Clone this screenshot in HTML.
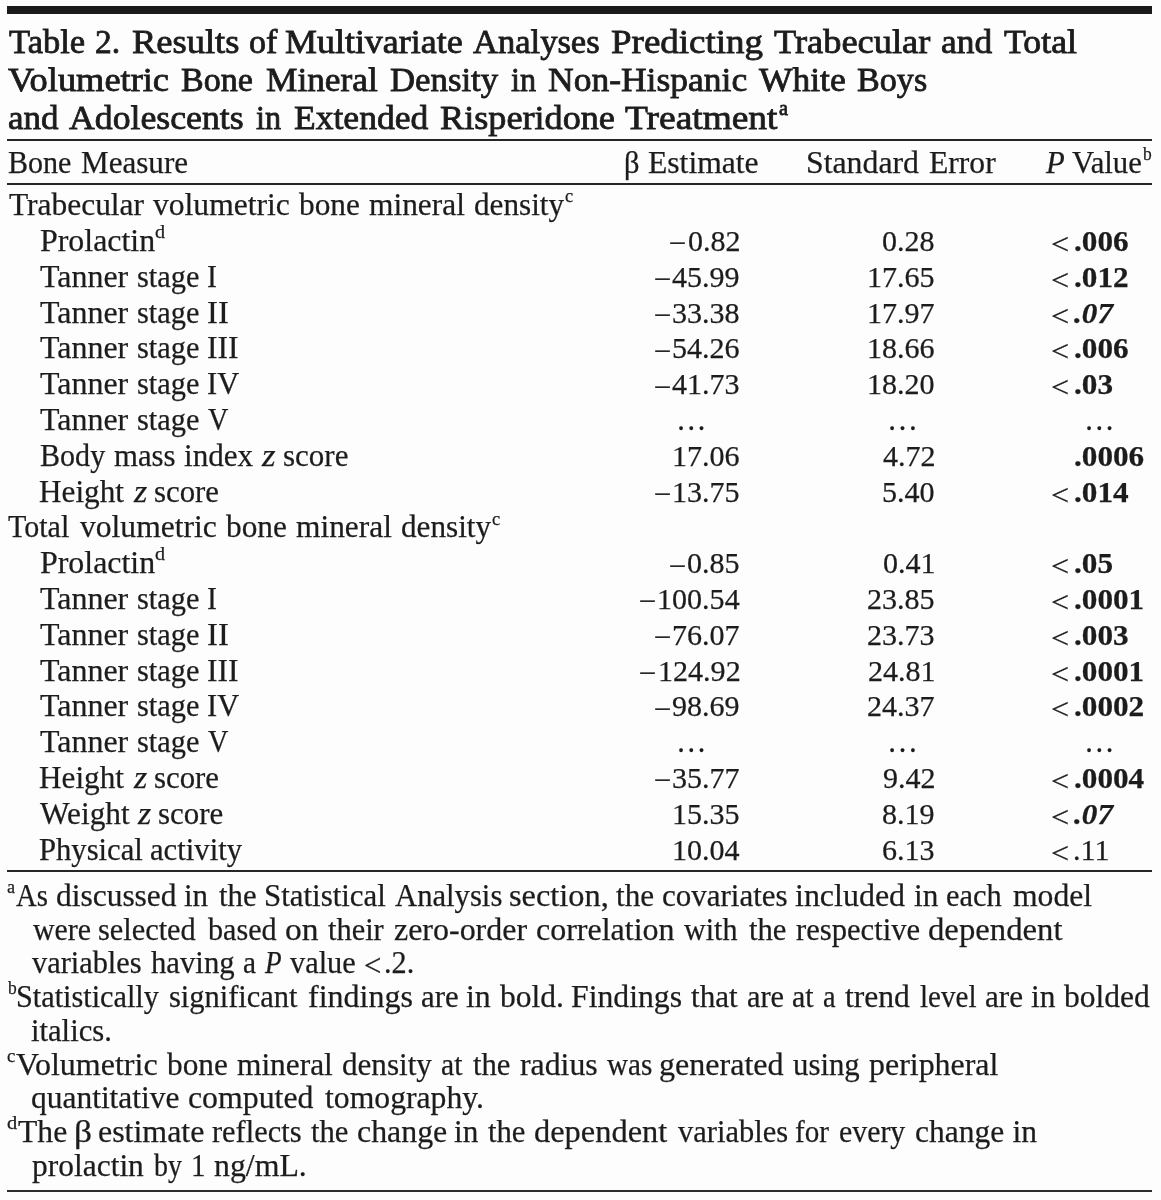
<!DOCTYPE html>
<html><head><meta charset="utf-8"><title>Table 2</title>
<style>
html,body{margin:0;padding:0;}
body{width:1161px;height:1200px;background:#fcfdfc;position:relative;overflow:hidden;font-family:"Liberation Serif",serif;color:#1c1c1c;}
.x{position:absolute;white-space:nowrap;line-height:1;transform-origin:0 0;font-size:31.5px;-webkit-text-stroke:0.25px #1c1c1c;}
.t{-webkit-text-stroke:0.8px #1c1c1c;}
.r{position:absolute;}
</style></head>
<body>
<div style="position:absolute;left:0;top:0;width:1161px;height:1200px;filter:blur(0.4px)">
<div class="r" style="left:7px;top:6.2px;width:1144.6px;height:7.75px;background:#1b1b1b"></div>
<div class="r" style="left:7px;top:139.1px;width:1144.6px;height:2.1px;background:#262626"></div>
<div class="r" style="left:7px;top:183.1px;width:1144.6px;height:2.1px;background:#262626"></div>
<div class="r" style="left:7px;top:870.1px;width:1144.6px;height:2.1px;background:#262626"></div>
<div class="r" style="left:7px;top:1189.8px;width:1144.6px;height:2.4px;background:#2c2c2c"></div>
<span class="x t" style="left:8.60px;top:24px;font-size:34.3px;transform:scaleX(1.0053);">Table</span>
<span class="x t" style="left:95.13px;top:24px;font-size:34.3px;transform:scaleX(0.9739);">2.</span>
<span class="x t" style="left:131.74px;top:24px;font-size:34.3px;transform:scaleX(1.0636);">Results</span>
<span class="x t" style="left:249.21px;top:24px;font-size:34.3px;transform:scaleX(0.9929);">of</span>
<span class="x t" style="left:284.95px;top:24px;font-size:34.3px;transform:scaleX(1.0476);">Multivariate</span>
<span class="x t" style="left:473.30px;top:24px;font-size:34.3px;transform:scaleX(1.0072);">Analyses</span>
<span class="x t" style="left:610.82px;top:24px;font-size:34.3px;transform:scaleX(1.0786);">Predicting</span>
<span class="x t" style="left:774.20px;top:24px;font-size:34.3px;transform:scaleX(1.0608);">Trabecular</span>
<span class="x t" style="left:941.07px;top:24px;font-size:34.3px;transform:scaleX(1.0327);">and</span>
<span class="x t" style="left:1004.00px;top:24px;font-size:34.3px;transform:scaleX(1.0429);">Total</span>
<span class="x t" style="left:7.80px;top:62px;font-size:34.3px;transform:scaleX(1.0609);">Volumetric</span>
<span class="x t" style="left:181.01px;top:62px;font-size:34.3px;transform:scaleX(0.9930);">Bone</span>
<span class="x t" style="left:266.27px;top:62px;font-size:34.3px;transform:scaleX(1.0290);">Mineral</span>
<span class="x t" style="left:390.19px;top:62px;font-size:34.3px;transform:scaleX(1.0132);">Density</span>
<span class="x t" style="left:511.10px;top:62px;font-size:34.3px;transform:scaleX(0.9407);">in</span>
<span class="x t" style="left:547.56px;top:62px;font-size:34.3px;transform:scaleX(1.0351);">Non-Hispanic</span>
<span class="x t" style="left:758.90px;top:62px;font-size:34.3px;transform:scaleX(1.0337);">White</span>
<span class="x t" style="left:856.70px;top:62px;font-size:34.3px;transform:scaleX(0.9957);">Boys</span>
<span class="x t" style="left:7.58px;top:100px;font-size:34.3px;transform:scaleX(1.0204);">and</span>
<span class="x t" style="left:69.40px;top:100px;font-size:34.3px;transform:scaleX(1.0413);">Adolescents</span>
<span class="x t" style="left:255.60px;top:100px;font-size:34.3px;transform:scaleX(0.9407);">in</span>
<span class="x t" style="left:293.76px;top:100px;font-size:34.3px;transform:scaleX(1.0364);">Extended</span>
<span class="x t" style="left:439.84px;top:100px;font-size:34.3px;transform:scaleX(1.0555);">Risperidone</span>
<span class="x t" style="left:625.00px;top:100px;font-size:34.3px;transform:scaleX(1.0914);">Treatment</span>
<span class="x t" style="left:778.90px;top:97px;font-size:22px;transform:scaleX(0.9200);">a</span>
<span class="x" style="left:7.65px;top:147px;transform:scaleX(0.9538);">Bone</span>
<span class="x" style="left:80.81px;top:147px;transform:scaleX(0.9869);">Measure</span>
<span class="x" style="left:623.86px;top:147px;transform:scaleX(0.9692);">β</span>
<span class="x" style="left:647.80px;top:147px;transform:scaleX(1.0037);">Estimate</span>
<span class="x" style="left:805.78px;top:147px;transform:scaleX(1.0091);">Standard</span>
<span class="x" style="left:928.60px;top:147px;transform:scaleX(1.0030);">Error</span>
<span class="x" style="left:1046.20px;top:147px;transform:scaleX(0.9753);"><i>P</i> Value</span>
<span class="x" style="left:1142.80px;top:144px;font-size:19px;transform:scaleX(0.9200);">b</span>
<span class="x" style="left:8.90px;top:189px;transform:scaleX(0.9978);">Trabecular</span>
<span class="x" style="left:152.50px;top:189px;transform:scaleX(1.0029);">volumetric</span>
<span class="x" style="left:298.75px;top:189px;transform:scaleX(0.9942);">bone</span>
<span class="x" style="left:368.75px;top:189px;transform:scaleX(0.9964);">mineral</span>
<span class="x" style="left:474.01px;top:189px;transform:scaleX(0.9900);">density</span>
<span class="x" style="left:564.63px;top:186px;font-size:19px;transform:scaleX(0.9714);">c</span>
<span class="x" style="left:39.59px;top:225px;transform:scaleX(1.0125);">Prolactin</span>
<span class="x" style="left:154.74px;top:222px;font-size:19px;transform:scaleX(1.0625);">d</span>
<span class="x" style="left:669.17px;top:228px;font-size:30px;transform:scaleX(1.0333);">−</span>
<span class="x" style="left:688.49px;top:226px;font-size:30px;transform:scaleX(1.0021);">0.82</span>
<span class="x" style="left:881.89px;top:226px;font-size:30px;transform:scaleX(1.0021);">0.28</span>
<span class="x" style="left:1050.86px;top:229px;font-size:30px;transform:scaleX(1.0714);">&lt;</span>
<span class="x" style="left:1073.66px;top:226px;font-size:30px;transform:scaleX(1.0400);"><b>.006</b></span>
<span class="x" style="left:40.20px;top:261px;transform:scaleX(1.0138);">Tanner</span>
<span class="x" style="left:137.04px;top:261px;transform:scaleX(0.9635);">stage</span>
<span class="x" style="left:207.16px;top:261px;transform:scaleX(0.9444);">I</span>
<span class="x" style="left:654.27px;top:264px;font-size:30px;transform:scaleX(1.0333);">−</span>
<span class="x" style="left:672.46px;top:262px;font-size:30px;transform:scaleX(1.0021);">45.99</span>
<span class="x" style="left:866.86px;top:262px;font-size:30px;transform:scaleX(1.0021);">17.65</span>
<span class="x" style="left:1050.86px;top:265px;font-size:30px;transform:scaleX(1.0714);">&lt;</span>
<span class="x" style="left:1073.66px;top:262px;font-size:30px;transform:scaleX(1.0400);"><b>.012</b></span>
<span class="x" style="left:40.20px;top:297px;transform:scaleX(1.0138);">Tanner</span>
<span class="x" style="left:137.04px;top:297px;transform:scaleX(0.9635);">stage</span>
<span class="x" style="left:207.06px;top:297px;transform:scaleX(1.0368);">II</span>
<span class="x" style="left:654.27px;top:300px;font-size:30px;transform:scaleX(1.0333);">−</span>
<span class="x" style="left:672.46px;top:298px;font-size:30px;transform:scaleX(1.0021);">33.38</span>
<span class="x" style="left:866.86px;top:298px;font-size:30px;transform:scaleX(1.0021);">17.97</span>
<span class="x" style="left:1050.86px;top:301px;font-size:30px;transform:scaleX(1.0714);">&lt;</span>
<span class="x" style="left:1074.20px;top:298px;font-size:30px;transform:scaleX(1.0400);"><b><i>.07</i></b></span>
<span class="x" style="left:40.20px;top:332px;transform:scaleX(1.0138);">Tanner</span>
<span class="x" style="left:137.04px;top:332px;transform:scaleX(0.9635);">stage</span>
<span class="x" style="left:207.10px;top:332px;transform:scaleX(1.0033);">III</span>
<span class="x" style="left:654.27px;top:336px;font-size:30px;transform:scaleX(1.0333);">−</span>
<span class="x" style="left:672.46px;top:333px;font-size:30px;transform:scaleX(1.0021);">54.26</span>
<span class="x" style="left:866.86px;top:333px;font-size:30px;transform:scaleX(1.0021);">18.66</span>
<span class="x" style="left:1050.86px;top:336px;font-size:30px;transform:scaleX(1.0714);">&lt;</span>
<span class="x" style="left:1073.66px;top:333px;font-size:30px;transform:scaleX(1.0400);"><b>.006</b></span>
<span class="x" style="left:40.20px;top:368px;transform:scaleX(1.0138);">Tanner</span>
<span class="x" style="left:137.04px;top:368px;transform:scaleX(0.9635);">stage</span>
<span class="x" style="left:207.13px;top:368px;transform:scaleX(0.9656);">IV</span>
<span class="x" style="left:654.27px;top:372px;font-size:30px;transform:scaleX(1.0333);">−</span>
<span class="x" style="left:672.46px;top:369px;font-size:30px;transform:scaleX(1.0021);">41.73</span>
<span class="x" style="left:866.86px;top:369px;font-size:30px;transform:scaleX(1.0021);">18.20</span>
<span class="x" style="left:1050.86px;top:372px;font-size:30px;transform:scaleX(1.0714);">&lt;</span>
<span class="x" style="left:1073.66px;top:369px;font-size:30px;transform:scaleX(1.0400);"><b>.03</b></span>
<span class="x" style="left:40.20px;top:404px;transform:scaleX(1.0138);">Tanner</span>
<span class="x" style="left:137.04px;top:404px;transform:scaleX(0.9635);">stage</span>
<span class="x" style="left:208.40px;top:404px;transform:scaleX(0.8957);">V</span>
<span class="x" style="left:675.84px;top:404px;transform:scaleX(0.9700);">…</span>
<span class="x" style="left:887.05px;top:404px;transform:scaleX(0.9840);">…</span>
<span class="x" style="left:1083.88px;top:404px;transform:scaleX(0.9720);">…</span>
<span class="x" style="left:39.54px;top:440px;transform:scaleX(0.9552);">Body</span>
<span class="x" style="left:114.40px;top:440px;transform:scaleX(0.9774);">mass</span>
<span class="x" style="left:183.91px;top:440px;transform:scaleX(0.9884);">index</span>
<span class="x" style="left:261.70px;top:440px;transform:scaleX(1.1083);"><i>z</i></span>
<span class="x" style="left:282.82px;top:440px;transform:scaleX(0.9846);">score</span>
<span class="x" style="left:672.46px;top:441px;font-size:30px;transform:scaleX(1.0021);">17.06</span>
<span class="x" style="left:882.89px;top:441px;font-size:30px;transform:scaleX(1.0021);">4.72</span>
<span class="x" style="left:1073.66px;top:441px;font-size:30px;transform:scaleX(1.0400);"><b>.0006</b></span>
<span class="x" style="left:39.31px;top:476px;transform:scaleX(0.9906);">Height</span>
<span class="x" style="left:133.60px;top:476px;transform:scaleX(1.0833);"><i>z</i></span>
<span class="x" style="left:154.02px;top:476px;transform:scaleX(0.9785);">score</span>
<span class="x" style="left:654.27px;top:479px;font-size:30px;transform:scaleX(1.0333);">−</span>
<span class="x" style="left:672.46px;top:477px;font-size:30px;transform:scaleX(1.0021);">13.75</span>
<span class="x" style="left:881.89px;top:477px;font-size:30px;transform:scaleX(1.0021);">5.40</span>
<span class="x" style="left:1050.86px;top:480px;font-size:30px;transform:scaleX(1.0714);">&lt;</span>
<span class="x" style="left:1073.66px;top:477px;font-size:30px;transform:scaleX(1.0400);"><b>.014</b></span>
<span class="x" style="left:8.40px;top:511px;transform:scaleX(0.9531);">Total</span>
<span class="x" style="left:79.90px;top:511px;transform:scaleX(1.0029);">volumetric</span>
<span class="x" style="left:226.15px;top:511px;transform:scaleX(0.9942);">bone</span>
<span class="x" style="left:296.15px;top:511px;transform:scaleX(0.9964);">mineral</span>
<span class="x" style="left:401.41px;top:511px;transform:scaleX(0.9900);">density</span>
<span class="x" style="left:492.03px;top:509px;font-size:19px;transform:scaleX(0.9714);">c</span>
<span class="x" style="left:39.59px;top:547px;transform:scaleX(1.0125);">Prolactin</span>
<span class="x" style="left:154.74px;top:544px;font-size:19px;transform:scaleX(1.0625);">d</span>
<span class="x" style="left:669.17px;top:551px;font-size:30px;transform:scaleX(1.0333);">−</span>
<span class="x" style="left:687.49px;top:548px;font-size:30px;transform:scaleX(1.0021);">0.85</span>
<span class="x" style="left:882.89px;top:548px;font-size:30px;transform:scaleX(1.0021);">0.41</span>
<span class="x" style="left:1050.86px;top:551px;font-size:30px;transform:scaleX(1.0714);">&lt;</span>
<span class="x" style="left:1073.66px;top:548px;font-size:30px;transform:scaleX(1.0400);"><b>.05</b></span>
<span class="x" style="left:40.20px;top:583px;transform:scaleX(1.0138);">Tanner</span>
<span class="x" style="left:137.04px;top:583px;transform:scaleX(0.9635);">stage</span>
<span class="x" style="left:207.16px;top:583px;transform:scaleX(0.9444);">I</span>
<span class="x" style="left:639.37px;top:586px;font-size:30px;transform:scaleX(1.0333);">−</span>
<span class="x" style="left:657.43px;top:584px;font-size:30px;transform:scaleX(1.0021);">100.54</span>
<span class="x" style="left:866.86px;top:584px;font-size:30px;transform:scaleX(1.0021);">23.85</span>
<span class="x" style="left:1050.86px;top:587px;font-size:30px;transform:scaleX(1.0714);">&lt;</span>
<span class="x" style="left:1073.66px;top:584px;font-size:30px;transform:scaleX(1.0400);"><b>.0001</b></span>
<span class="x" style="left:40.20px;top:619px;transform:scaleX(1.0138);">Tanner</span>
<span class="x" style="left:137.04px;top:619px;transform:scaleX(0.9635);">stage</span>
<span class="x" style="left:207.06px;top:619px;transform:scaleX(1.0368);">II</span>
<span class="x" style="left:654.27px;top:622px;font-size:30px;transform:scaleX(1.0333);">−</span>
<span class="x" style="left:672.46px;top:620px;font-size:30px;transform:scaleX(1.0021);">76.07</span>
<span class="x" style="left:866.86px;top:620px;font-size:30px;transform:scaleX(1.0021);">23.73</span>
<span class="x" style="left:1050.86px;top:623px;font-size:30px;transform:scaleX(1.0714);">&lt;</span>
<span class="x" style="left:1073.66px;top:620px;font-size:30px;transform:scaleX(1.0400);"><b>.003</b></span>
<span class="x" style="left:40.20px;top:655px;transform:scaleX(1.0138);">Tanner</span>
<span class="x" style="left:137.04px;top:655px;transform:scaleX(0.9635);">stage</span>
<span class="x" style="left:207.10px;top:655px;transform:scaleX(1.0033);">III</span>
<span class="x" style="left:639.37px;top:658px;font-size:30px;transform:scaleX(1.0333);">−</span>
<span class="x" style="left:658.43px;top:656px;font-size:30px;transform:scaleX(1.0021);">124.92</span>
<span class="x" style="left:867.86px;top:656px;font-size:30px;transform:scaleX(1.0021);">24.81</span>
<span class="x" style="left:1050.86px;top:659px;font-size:30px;transform:scaleX(1.0714);">&lt;</span>
<span class="x" style="left:1073.66px;top:656px;font-size:30px;transform:scaleX(1.0400);"><b>.0001</b></span>
<span class="x" style="left:40.20px;top:690px;transform:scaleX(1.0138);">Tanner</span>
<span class="x" style="left:137.04px;top:690px;transform:scaleX(0.9635);">stage</span>
<span class="x" style="left:207.13px;top:690px;transform:scaleX(0.9656);">IV</span>
<span class="x" style="left:654.27px;top:694px;font-size:30px;transform:scaleX(1.0333);">−</span>
<span class="x" style="left:672.46px;top:691px;font-size:30px;transform:scaleX(1.0021);">98.69</span>
<span class="x" style="left:866.86px;top:691px;font-size:30px;transform:scaleX(1.0021);">24.37</span>
<span class="x" style="left:1050.86px;top:694px;font-size:30px;transform:scaleX(1.0714);">&lt;</span>
<span class="x" style="left:1073.66px;top:691px;font-size:30px;transform:scaleX(1.0400);"><b>.0002</b></span>
<span class="x" style="left:40.20px;top:726px;transform:scaleX(1.0138);">Tanner</span>
<span class="x" style="left:137.04px;top:726px;transform:scaleX(0.9635);">stage</span>
<span class="x" style="left:208.40px;top:726px;transform:scaleX(0.8957);">V</span>
<span class="x" style="left:675.84px;top:726px;transform:scaleX(0.9700);">…</span>
<span class="x" style="left:887.05px;top:726px;transform:scaleX(0.9840);">…</span>
<span class="x" style="left:1083.88px;top:726px;transform:scaleX(0.9720);">…</span>
<span class="x" style="left:39.31px;top:762px;transform:scaleX(0.9906);">Height</span>
<span class="x" style="left:133.60px;top:762px;transform:scaleX(1.0833);"><i>z</i></span>
<span class="x" style="left:154.02px;top:762px;transform:scaleX(0.9785);">score</span>
<span class="x" style="left:654.27px;top:765px;font-size:30px;transform:scaleX(1.0333);">−</span>
<span class="x" style="left:672.46px;top:763px;font-size:30px;transform:scaleX(1.0021);">35.77</span>
<span class="x" style="left:882.89px;top:763px;font-size:30px;transform:scaleX(1.0021);">9.42</span>
<span class="x" style="left:1050.86px;top:766px;font-size:30px;transform:scaleX(1.0714);">&lt;</span>
<span class="x" style="left:1073.66px;top:763px;font-size:30px;transform:scaleX(1.0400);"><b>.0004</b></span>
<span class="x" style="left:40.20px;top:798px;transform:scaleX(0.9944);">Weight</span>
<span class="x" style="left:138.00px;top:798px;transform:scaleX(1.0833);"><i>z</i></span>
<span class="x" style="left:158.42px;top:798px;transform:scaleX(0.9815);">score</span>
<span class="x" style="left:672.46px;top:799px;font-size:30px;transform:scaleX(1.0021);">15.35</span>
<span class="x" style="left:881.89px;top:799px;font-size:30px;transform:scaleX(1.0021);">8.19</span>
<span class="x" style="left:1050.86px;top:802px;font-size:30px;transform:scaleX(1.0714);">&lt;</span>
<span class="x" style="left:1074.20px;top:799px;font-size:30px;transform:scaleX(1.0400);"><b><i>.07</i></b></span>
<span class="x" style="left:39.03px;top:834px;transform:scaleX(0.9724);">Physical</span>
<span class="x" style="left:150.43px;top:834px;transform:scaleX(0.9745);">activity</span>
<span class="x" style="left:672.46px;top:835px;font-size:30px;transform:scaleX(1.0021);">10.04</span>
<span class="x" style="left:881.89px;top:835px;font-size:30px;transform:scaleX(1.0021);">6.13</span>
<span class="x" style="left:1050.86px;top:838px;font-size:30px;transform:scaleX(1.0714);">&lt;</span>
<span class="x" style="left:1072.70px;top:835px;font-size:30px;transform:scaleX(1.0021);">.11</span>
<span class="x" style="left:16.40px;top:880px;transform:scaleX(0.9118);">As</span>
<span class="x" style="left:55.80px;top:880px;transform:scaleX(0.9983);">discussed</span>
<span class="x" style="left:184.22px;top:880px;transform:scaleX(0.9826);">in</span>
<span class="x" style="left:218.90px;top:880px;transform:scaleX(0.9763);">the</span>
<span class="x" style="left:264.34px;top:880px;transform:scaleX(0.9811);">Statistical</span>
<span class="x" style="left:394.70px;top:880px;transform:scaleX(0.9734);">Analysis</span>
<span class="x" style="left:509.27px;top:880px;transform:scaleX(1.0277);">section,</span>
<span class="x" style="left:615.80px;top:880px;transform:scaleX(0.9895);">the</span>
<span class="x" style="left:661.92px;top:880px;transform:scaleX(0.9841);">covariates</span>
<span class="x" style="left:795.39px;top:880px;transform:scaleX(1.0150);">included</span>
<span class="x" style="left:914.01px;top:880px;transform:scaleX(0.9913);">in</span>
<span class="x" style="left:946.34px;top:880px;transform:scaleX(0.9649);">each</span>
<span class="x" style="left:1012.70px;top:880px;transform:scaleX(1.0038);">model</span>
<span class="x" style="left:7.14px;top:877px;font-size:19px;transform:scaleX(0.9571);">a</span>
<span class="x" style="left:32.70px;top:914px;transform:scaleX(0.9483);">were</span>
<span class="x" style="left:98.14px;top:914px;transform:scaleX(0.9640);">selected</span>
<span class="x" style="left:207.80px;top:914px;transform:scaleX(0.9569);">based</span>
<span class="x" style="left:285.04px;top:914px;transform:scaleX(1.0633);">on</span>
<span class="x" style="left:327.50px;top:914px;transform:scaleX(0.9655);">their</span>
<span class="x" style="left:393.69px;top:914px;transform:scaleX(1.0146);">zero-order</span>
<span class="x" style="left:535.98px;top:914px;transform:scaleX(1.0156);">correlation</span>
<span class="x" style="left:684.40px;top:914px;transform:scaleX(0.9536);">with</span>
<span class="x" style="left:749.00px;top:914px;transform:scaleX(0.9737);">the</span>
<span class="x" style="left:795.50px;top:914px;transform:scaleX(0.9717);">respective</span>
<span class="x" style="left:928.46px;top:914px;transform:scaleX(1.0388);">dependent</span>
<span class="x" style="left:32.40px;top:947px;transform:scaleX(0.9637);">variables</span>
<span class="x" style="left:150.70px;top:947px;transform:scaleX(0.9753);">having</span>
<span class="x" style="left:242.97px;top:947px;transform:scaleX(0.9308);">a</span>
<span class="x" style="left:264.60px;top:947px;transform:scaleX(0.8632);"><i>P</i></span>
<span class="x" style="left:289.60px;top:947px;transform:scaleX(0.9642);">value</span>
<span class="x" style="left:363.52px;top:950px;transform:scaleX(0.9800);">&lt;</span>
<span class="x" style="left:384.08px;top:947px;transform:scaleX(0.9607);">.2.</span>
<span class="x" style="left:16.18px;top:981px;transform:scaleX(0.9605);">Statistically</span>
<span class="x" style="left:168.73px;top:981px;transform:scaleX(0.9667);">significant</span>
<span class="x" style="left:308.38px;top:981px;transform:scaleX(1.0158);">findings</span>
<span class="x" style="left:420.52px;top:981px;transform:scaleX(0.9784);">are</span>
<span class="x" style="left:466.19px;top:981px;transform:scaleX(1.0087);">in</span>
<span class="x" style="left:499.90px;top:981px;">bold.</span>
<span class="x" style="left:571.29px;top:981px;transform:scaleX(1.0065);">Findings</span>
<span class="x" style="left:691.30px;top:981px;transform:scaleX(0.9894);">that</span>
<span class="x" style="left:746.84px;top:981px;transform:scaleX(0.9649);">are</span>
<span class="x" style="left:791.95px;top:981px;transform:scaleX(0.9500);">at</span>
<span class="x" style="left:823.20px;top:981px;transform:scaleX(0.9000);">a</span>
<span class="x" style="left:845.10px;top:981px;transform:scaleX(1.0015);">trend</span>
<span class="x" style="left:919.68px;top:981px;transform:scaleX(0.9233);">level</span>
<span class="x" style="left:984.61px;top:981px;transform:scaleX(0.9892);">are</span>
<span class="x" style="left:1031.00px;top:981px;transform:scaleX(0.9957);">in</span>
<span class="x" style="left:1064.40px;top:981px;transform:scaleX(1.0012);">bolded</span>
<span class="x" style="left:8.30px;top:978px;font-size:19px;transform:scaleX(0.9200);">b</span>
<span class="x" style="left:31.43px;top:1015px;transform:scaleX(0.9725);">italics.</span>
<span class="x" style="left:16.40px;top:1049px;transform:scaleX(1.0158);">Volumetric</span>
<span class="x" style="left:167.10px;top:1049px;transform:scaleX(0.9933);">bone</span>
<span class="x" style="left:237.00px;top:1049px;transform:scaleX(0.9958);">mineral</span>
<span class="x" style="left:342.01px;top:1049px;transform:scaleX(0.9878);">density</span>
<span class="x" style="left:441.26px;top:1049px;transform:scaleX(0.9409);">at</span>
<span class="x" style="left:473.20px;top:1049px;transform:scaleX(0.9737);">the</span>
<span class="x" style="left:519.70px;top:1049px;transform:scaleX(1.0092);">radius</span>
<span class="x" style="left:607.40px;top:1049px;transform:scaleX(0.9229);">was</span>
<span class="x" style="left:659.28px;top:1049px;transform:scaleX(1.0182);">generated</span>
<span class="x" style="left:792.90px;top:1049px;transform:scaleX(0.9779);">using</span>
<span class="x" style="left:868.90px;top:1049px;transform:scaleX(1.0134);">peripheral</span>
<span class="x" style="left:6.91px;top:1046px;font-size:19px;transform:scaleX(0.9857);">c</span>
<span class="x" style="left:31.40px;top:1082px;transform:scaleX(0.9986);">quantitative</span>
<span class="x" style="left:188.49px;top:1082px;transform:scaleX(1.0098);">computed</span>
<span class="x" style="left:324.90px;top:1082px;transform:scaleX(1.0058);">tomography.</span>
<span class="x" style="left:18.10px;top:1116px;transform:scaleX(1.0042);">The</span>
<span class="x" style="left:73.55px;top:1116px;transform:scaleX(1.1231);">β</span>
<span class="x" style="left:97.99px;top:1116px;transform:scaleX(1.0136);">estimate</span>
<span class="x" style="left:212.00px;top:1116px;transform:scaleX(0.9652);">reflects</span>
<span class="x" style="left:311.10px;top:1116px;transform:scaleX(0.9737);">the</span>
<span class="x" style="left:356.59px;top:1116px;transform:scaleX(1.0115);">change</span>
<span class="x" style="left:454.11px;top:1116px;transform:scaleX(0.9913);">in</span>
<span class="x" style="left:487.90px;top:1116px;transform:scaleX(0.9737);">the</span>
<span class="x" style="left:534.17px;top:1116px;transform:scaleX(1.0295);">dependent</span>
<span class="x" style="left:677.50px;top:1116px;transform:scaleX(0.9681);">variables</span>
<span class="x" style="left:795.08px;top:1116px;transform:scaleX(0.9250);">for</span>
<span class="x" style="left:839.05px;top:1116px;transform:scaleX(0.9478);">every</span>
<span class="x" style="left:915.30px;top:1116px;transform:scaleX(0.9989);">change</span>
<span class="x" style="left:1012.50px;top:1116px;">in</span>
<span class="x" style="left:6.72px;top:1113px;font-size:19px;transform:scaleX(1.0750);">d</span>
<span class="x" style="left:31.90px;top:1150px;transform:scaleX(0.9991);">prolactin</span>
<span class="x" style="left:154.20px;top:1150px;transform:scaleX(0.8875);">by</span>
<span class="x" style="left:191.04px;top:1150px;transform:scaleX(0.9200);">1</span>
<span class="x" style="left:213.59px;top:1150px;transform:scaleX(1.0101);">ng/mL.</span>
</div>
</body></html>
